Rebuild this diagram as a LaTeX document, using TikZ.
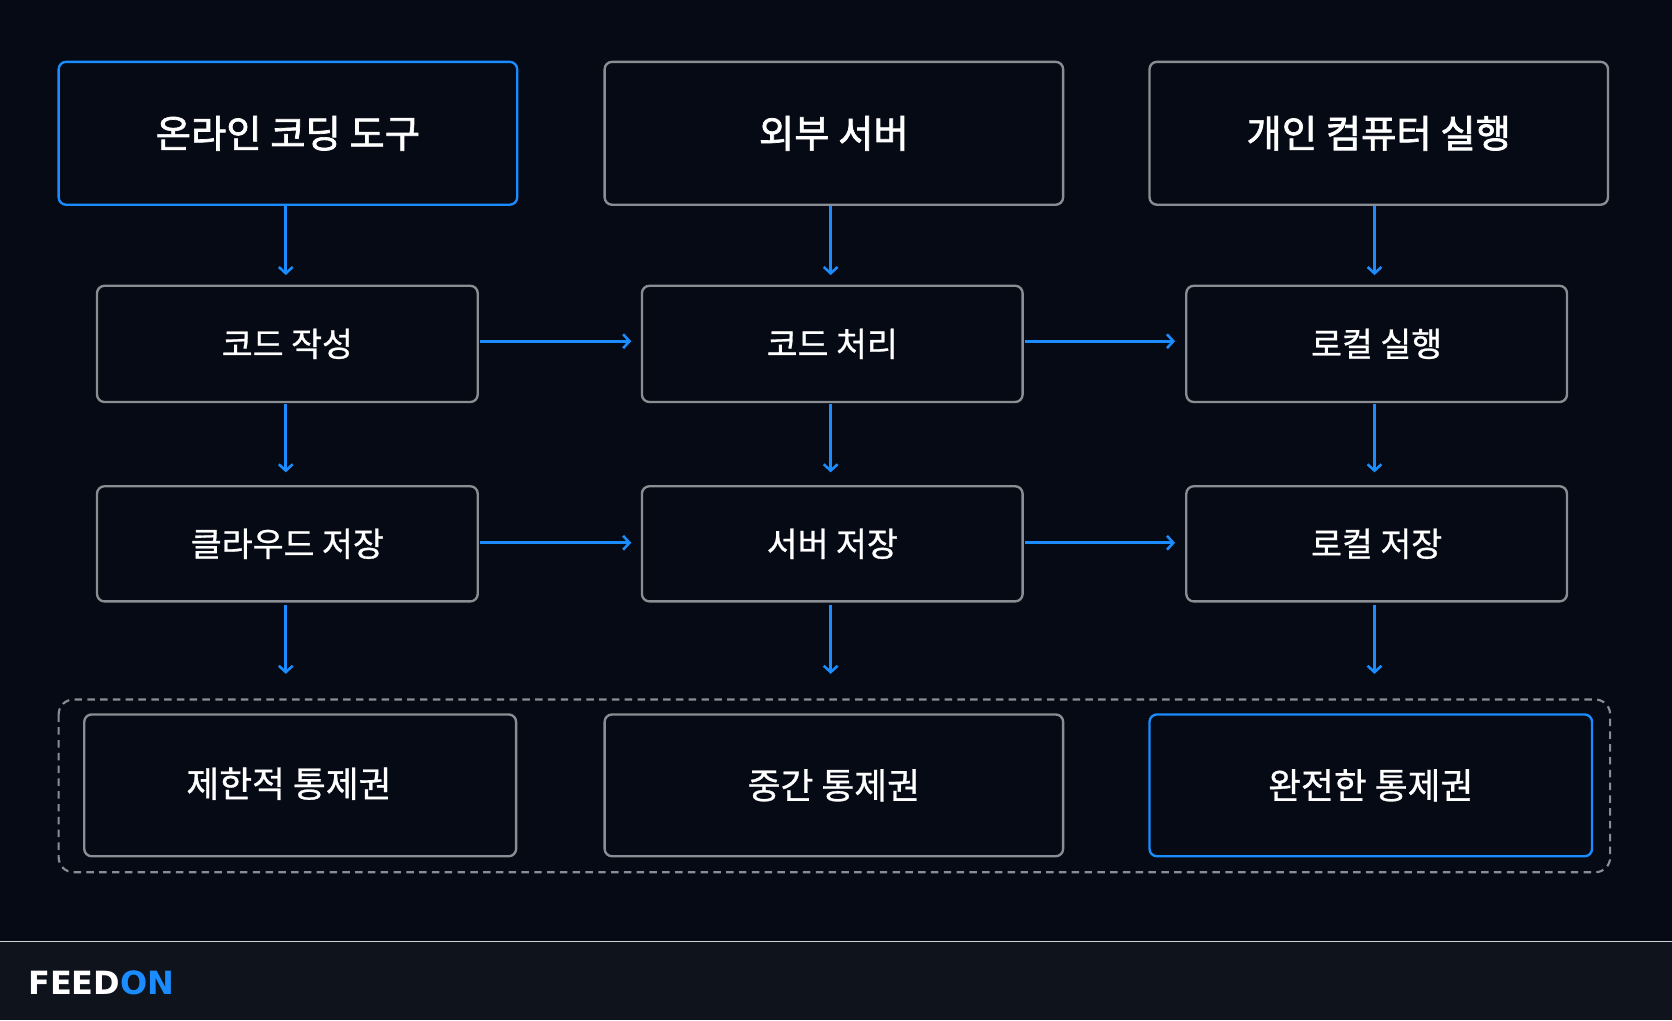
\documentclass[tikz,border=0pt]{standalone}
\usepackage{fontspec}
\newfontfamily\kr{Noto Sans CJK KR}[FakeBold=0.8]
\newfontfamily\krb{Noto Sans CJK KR}[FakeBold=1.8]
\newfontfamily\logof{DejaVu Sans}
\usetikzlibrary{arrows.meta}
\definecolor{bg}{HTML}{060A14}
\definecolor{foot}{HTML}{0E131C}
\definecolor{blu}{HTML}{1A8CFF}
\definecolor{gry}{HTML}{8A8D93}
\begin{document}
\begin{tikzpicture}[x=1pt,y=-1pt,
  box/.style={draw=gry,line width=2.2pt,rounded corners=7pt,fill=bg,text=white},
  hl/.style={draw=blu},
  top/.style={box,font=\krb\fontsize{36}{40}\selectfont},
  mid/.style={box,font=\kr\fontsize{31.5}{35}\selectfont},
  bot/.style={box,font=\kr\fontsize{33.5}{37}\selectfont},
  arr/.style={draw=blu,line width=2.4pt,-{Straight Barb[length=6pt,width=13pt]}}]
\useasboundingbox (0,0) rectangle (1568,957);
\fill[bg] (0,0) rectangle (1568,883);
\fill[foot] (0,883) rectangle (1568,957);
\draw[gry!40,line width=1pt] (0,883) -- (1568,883);
\node[anchor=west,font=\logof\bfseries\fontsize{30}{34}\selectfont] (logo) at (23,922) {\textcolor{white}{FEED}\textcolor{blu}{ON}};
\draw[gry,line width=2pt,dash pattern=on 7pt off 5pt,rounded corners=14pt] (55,656) rectangle (1510,818);
\node[top,hl,minimum width=430,minimum height=134] (t1) at (270,125) {온라인 코딩 도구};
\node[top,minimum width=430,minimum height=134] (t2) at (782,125) {외부 서버};
\node[top,minimum width=430,minimum height=134] (t3) at (1293,125) {개인 컴퓨터 실행};
\node[mid,minimum width=357,minimum height=109] (a1) at (269.5,322.5) {코드 작성};
\node[mid,minimum width=357,minimum height=109] (a2) at (780.5,322.5) {코드 처리};
\node[mid,minimum width=357,minimum height=109] (a3) at (1291,322.5) {로컬 실행};
\node[mid,minimum width=357,minimum height=108] (b1) at (269.5,510) {클라우드 저장};
\node[mid,minimum width=357,minimum height=108] (b2) at (780.5,510) {서버 저장};
\node[mid,minimum width=357,minimum height=108] (b3) at (1291,510) {로컬 저장};
\node[bot,minimum width=405,minimum height=133] (c1) at (281.5,736.5) {};
\node[font=\kr\fontsize{33.5}{37}\selectfont,text=white] (c1t) at (271,735) {제한적 통제권};
\node[bot,minimum width=430,minimum height=133] (c2) at (782,736.5) {중간 통제권};
\node[bot,hl,minimum width=415,minimum height=133] (c3) at (1285.5,736.5) {완전한 통제권};
\coordinate (e1) at (268,632); \coordinate (e2) at (779,632); \coordinate (e3) at (1289,632);
\draw[arr] (268,193) -- (268,258);
\draw[arr] (779,193) -- (779,258);
\draw[arr] (1289,193) -- (1289,258);
\draw[arr] (268,379) -- (268,443);
\draw[arr] (779,379) -- (779,443);
\draw[arr] (1289,379) -- (1289,443);
\draw[arr] (268,567) -- (e1);
\draw[arr] (779,567) -- (e2);
\draw[arr] (1289,567) -- (e3);
\draw[arr] (450,320) -- (592,320);
\draw[arr] (961,320) -- (1102,320);
\draw[arr] (450,509) -- (592,509);
\draw[arr] (961,509) -- (1102,509);
\end{tikzpicture}
\end{document}
